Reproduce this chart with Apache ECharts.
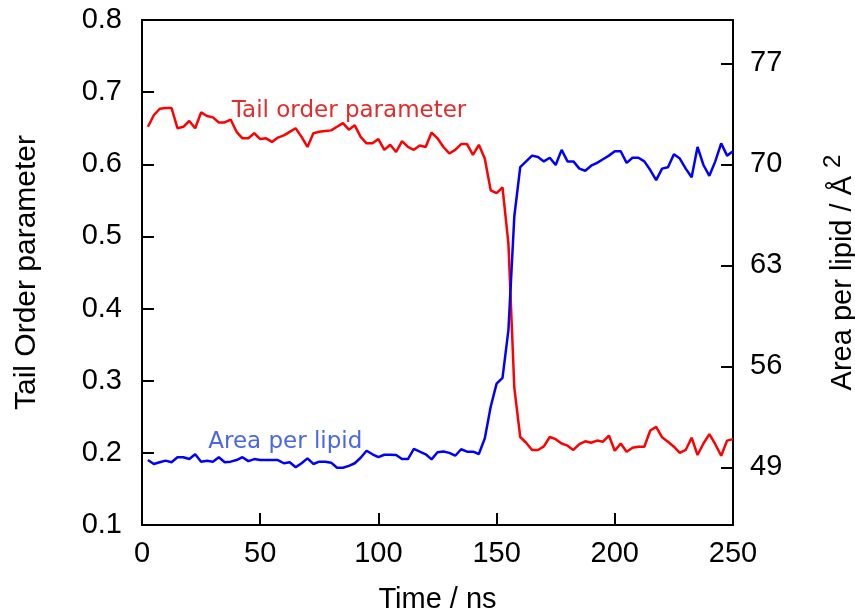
<!DOCTYPE html>
<html>
<head>
<meta charset="utf-8">
<script src="https://cdn.jsdelivr.net/npm/echarts@6/dist/echarts.min.js"></script>
<style>
  html, body { margin: 0; padding: 0; background: #fff; }
  #chart { width: 855px; height: 612px; }
</style>
</head>
<body>
<div id="chart"></div>
<script>
// Simulation time of each sample (ns)
const times = [
  2.5, 5, 7.5, 10, 12.5, 15, 17.5, 20, 22.5, 25,
  27.5, 30, 32.5, 35, 37.5, 40, 42.5, 45, 47.5, 50,
  52.5, 55, 57.5, 60, 62.5, 65, 67.5, 70, 72.5, 75,
  77.5, 80, 82.5, 85, 87.5, 90, 92.5, 95, 97.5, 100,
  102.5, 105, 107.5, 110, 112.5, 115, 117.5, 120, 122.5, 125,
  127.5, 130, 132.5, 135, 137.5, 140, 142.5, 145, 147.5, 150,
  152.5, 155, 157.5, 160, 162.5, 165, 167.5, 170, 172.5, 175,
  177.5, 180, 182.5, 185, 187.5, 190, 192.5, 195, 197.5, 200,
  202.5, 205, 207.5, 210, 212.5, 215, 217.5, 220, 222.5, 225,
  227.5, 230, 232.5, 235, 237.5, 240, 242.5, 245, 247.5, 250
];

// Lipid tail order parameter (left axis)
const tailOrder = [
  0.652, 0.668, 0.677, 0.678, 0.678, 0.650, 0.652, 0.660, 0.650, 0.672,
  0.667, 0.665, 0.658, 0.658, 0.662, 0.645, 0.636, 0.636, 0.643, 0.635,
  0.636, 0.631, 0.637, 0.640, 0.645, 0.650, 0.638, 0.624, 0.643, 0.645,
  0.646, 0.647, 0.652, 0.657, 0.648, 0.654, 0.638, 0.629, 0.629, 0.635,
  0.620, 0.627, 0.617, 0.632, 0.624, 0.620, 0.626, 0.624, 0.644, 0.636,
  0.624, 0.615, 0.620, 0.628, 0.628, 0.613, 0.627, 0.608, 0.564, 0.560,
  0.568, 0.490, 0.290, 0.222, 0.214, 0.204, 0.204, 0.209, 0.222, 0.219,
  0.213, 0.210, 0.204, 0.212, 0.216, 0.214, 0.217, 0.2155, 0.224, 0.203,
  0.213, 0.2015, 0.207, 0.2085, 0.2085, 0.231, 0.236, 0.2215, 0.2155, 0.2085,
  0.200, 0.204, 0.221, 0.197, 0.213, 0.226, 0.212, 0.196, 0.217, 0.219
];

// Area per lipid in square angstrom (right axis)
const areaPerLipid = [
  49.50, 49.23, 49.35, 49.46, 49.35, 49.70, 49.70, 49.57, 49.90, 49.39,
  49.46, 49.39, 49.70, 49.35, 49.39, 49.50, 49.70, 49.43, 49.57, 49.50,
  49.50, 49.50, 49.50, 49.28, 49.35, 49.00, 49.28, 49.62, 49.23, 49.39,
  49.39, 49.32, 48.97, 48.97, 49.10, 49.28, 49.66, 50.15, 49.90, 49.70,
  49.87, 49.87, 49.85, 49.57, 49.57, 50.27, 50.08, 49.90, 49.55, 50.04,
  50.10, 50.00, 49.80, 50.25, 50.08, 50.08, 49.92, 51.00, 53.20, 54.80,
  55.20, 58.50, 66.40, 69.80, 70.20, 70.60, 70.50, 70.20, 70.45, 69.95,
  71.00, 70.20, 70.20, 69.70, 69.55, 69.90, 70.10, 70.35, 70.60, 70.90,
  70.90, 70.10, 70.45, 70.45, 70.20, 69.60, 68.90, 69.70, 69.80, 70.70,
  70.40, 69.70, 69.10, 71.20, 69.95, 69.20, 70.20, 71.45, 70.60, 70.90
];

// Tick values
const xTicks = [0, 50, 100, 150, 200, 250];
const leftTicks = [0.1, 0.2, 0.3, 0.4, 0.5, 0.6, 0.7, 0.8];
const rightTicks = [49, 56, 63, 70, 77];

const FONT = 'Liberation Sans';
const tickFont = { fontFamily: FONT, fontSize: 29, color: '#000' };

const chart = echarts.init(document.getElementById('chart'), null, { renderer: 'canvas' });

chart.setOption({
  animation: false,
  backgroundColor: '#fff',
  grid: {
    left: 142, right: 122, top: 20, bottom: 87,
    containLabel: false, outerBoundsMode: 'none',
    show: true, borderColor: '#000', borderWidth: 2, backgroundColor: 'transparent'
  },
  xAxis: {
    type: 'value',
    min: xTicks[0], max: xTicks[xTicks.length - 1], interval: 50,
    name: 'Time / ns', nameLocation: 'middle', nameGap: 60,
    nameTextStyle: { fontFamily: FONT, fontSize: 29, color: '#000' },
    axisLine: { show: true, onZero: false, lineStyle: { color: '#000', width: 2 } },
    axisTick: { show: true, inside: true, length: 12, lineStyle: { color: '#000', width: 2 } },
    axisLabel: { ...tickFont, margin: 14 },
    splitLine: { show: false }
  },
  yAxis: [
    {
      type: 'value', position: 'left',
      min: leftTicks[0], max: leftTicks[leftTicks.length - 1], interval: 0.1,
      name: 'Tail Order parameter', nameLocation: 'middle', nameGap: 100, nameRotate: 90,
      nameTextStyle: { fontFamily: FONT, fontSize: 30, color: '#000' },
      axisLine: { show: true, onZero: false, lineStyle: { color: '#000', width: 2 } },
      axisTick: { show: true, inside: true, length: 12, lineStyle: { color: '#000', width: 2 } },
      axisLabel: { ...tickFont, margin: 20, formatter: v => v.toFixed(1) },
      splitLine: { show: false }
    },
    {
      type: 'value', position: 'right',
      min: 45, max: 80,
      name: '{a|Area per lipid / Å }{s|2}', nameLocation: 'middle', nameGap: 88, nameRotate: 90,
      nameTextStyle: {
        rich: {
          a: { fontFamily: FONT, fontSize: 29, color: '#000', lineHeight: 44 },
          s: { fontFamily: FONT, fontSize: 24, color: '#000', verticalAlign: 'top' }
        }
      },
      axisLine: { show: true, onZero: false, lineStyle: { color: '#000', width: 2 } },
      axisTick: { show: true, inside: true, length: 12, customValues: rightTicks, lineStyle: { color: '#000', width: 2 } },
      axisLabel: { ...tickFont, margin: 17, customValues: rightTicks },
      splitLine: { show: false }
    }
  ],
  series: [
    {
      name: 'Tail order parameter',
      type: 'line', yAxisIndex: 0,
      data: times.map((t, i) => [t, tailOrder[i]]),
      showSymbol: false, symbol: 'none',
      lineStyle: { color: '#ff0000', width: 2.5 },
      itemStyle: { color: '#ff0000' },
      markPoint: {
        symbol: 'circle', symbolSize: 0, silent: true,
        data: [{
          coord: [38, 0.674],
          label: {
            show: true, position: 'right', distance: 0,
            formatter: 'Tail order parameter',
            fontFamily: 'DejaVu Sans', fontSize: 23, color: '#e32b2b'
          }
        }]
      }
    },
    {
      name: 'Area per lipid',
      type: 'line', yAxisIndex: 1,
      data: times.map((t, i) => [t, areaPerLipid[i]]),
      showSymbol: false, symbol: 'none',
      lineStyle: { color: '#0000ff', width: 2.5 },
      itemStyle: { color: '#0000ff' },
      markPoint: {
        symbol: 'circle', symbolSize: 0, silent: true,
        data: [{
          coord: [28, 50.75],
          label: {
            show: true, position: 'right', distance: 0,
            formatter: 'Area per lipid',
            fontFamily: 'DejaVu Sans', fontSize: 23, color: '#4a66ea'
          }
        }]
      }
    }
  ]
});
</script>
</body>
</html>
